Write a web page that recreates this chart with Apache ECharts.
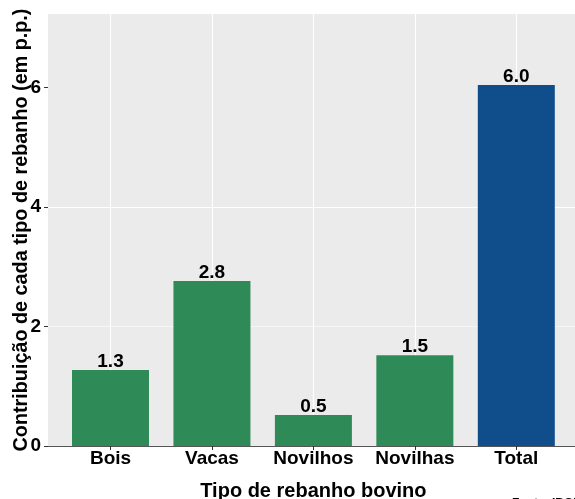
<!DOCTYPE html>
<html>
<head>
<meta charset="utf-8">
<script src="https://cdn.jsdelivr.net/npm/echarts@6/dist/echarts.min.js"></script>
<style>
html,body{margin:0;padding:0;background:#fff;}
#c{width:575px;height:499px;}
</style>
</head>
<body>
<div id="c"></div>
<script>
const categories = ['Bois', 'Vacas', 'Novilhos', 'Novilhas', 'Total'];
const values = [1.27, 2.76, 0.52, 1.52, 6.04];
const yTicks = [0, 2, 4, 6];
const xTitle = 'Tipo de rebanho bovino';
const yTitle = 'Contribuição de cada tipo de rebanho (em p.p.)';
const source = 'Fonte: IBGE';

const green = '#2E8B57';
const blue = '#104E8B';
const font = 'Liberation Sans, Arial, Helvetica, sans-serif';

const chart = echarts.init(document.getElementById('c'), null, {renderer: 'canvas'});
const xIdx = categories.map((c, i) => i);
const option = {
  backgroundColor: '#ffffff',
  animation: false,
  title: {
    text: source, left: 507, top: 493,
    textStyle: {fontFamily: font, fontSize: 12, fontWeight: 'bold', color: '#000'}
  },
  grid: {
    left: 48, right: -3.8, top: 14, bottom: 53,
    containLabel: false, outerBoundsMode: 'none',
    show: true, backgroundColor: '#EBEBEB', borderWidth: 0
  },
  xAxis: {
    type: 'value', min: -0.616, max: categories.length - 1 + 0.616,
    name: xTitle, nameLocation: 'middle', nameGap: 35, nameMoveOverlap: false,
    nameTextStyle: {fontFamily: font, fontSize: 20, fontWeight: 'bold', color: '#000'},
    axisLine: {show: true, onZero: false, lineStyle: {color: '#555', width: 1}},
    axisTick: {show: true, customValues: xIdx, length: 4, lineStyle: {color: '#333', width: 1}},
    axisLabel: {
      customValues: xIdx, margin: 3,
      fontFamily: font, fontSize: 19, fontWeight: 'bold', color: '#000',
      formatter: v => categories[Math.round(v)]
    },
    splitLine: {show: false}
  },
  yAxis: {
    type: 'value', min: 0, max: 7.23, interval: 1,
    name: yTitle, nameLocation: 'middle', nameGap: 16, nameRotate: 90, nameMoveOverlap: false,
    nameTextStyle: {fontFamily: font, fontSize: 19.8, fontWeight: 'bold', color: '#000'},
    axisLine: {show: false, onZero: false},
    axisTick: {show: true, customValues: yTicks, length: 4, lineStyle: {color: '#333', width: 1}},
    axisLabel: {
      customValues: yTicks, margin: 7,
      fontFamily: font, fontSize: 19, fontWeight: 'bold', color: '#000'
    },
    splitLine: {show: true, showMaxLine: false, lineStyle: {color: ['#FFFFFF', '#F6F6F6'], width: 1.1}}
  },
  series: [
    {
      type: 'line', data: [], z: 1, silent: true,
      markLine: {
        silent: true, symbol: 'none', animation: false, z: 1,
        label: {show: false},
        lineStyle: {color: '#FFFFFF', width: 1.1, type: 'solid'},
        data: xIdx.map(i => ({xAxis: i}))
      }
    },
    {
      type: 'bar', z: 3, barWidth: 77,
      data: values.map((v, i) => [i, v]),
      itemStyle: {color: p => p.dataIndex === categories.length - 1 ? blue : green},
      label: {
        show: true, position: 'top', distance: -1,
        fontFamily: font, fontSize: 19, fontWeight: 'bold', color: '#000',
        formatter: p => p.value[1].toFixed(1)
      }
    }
  ]
};
chart.setOption(option);
</script>
</body>
</html>
